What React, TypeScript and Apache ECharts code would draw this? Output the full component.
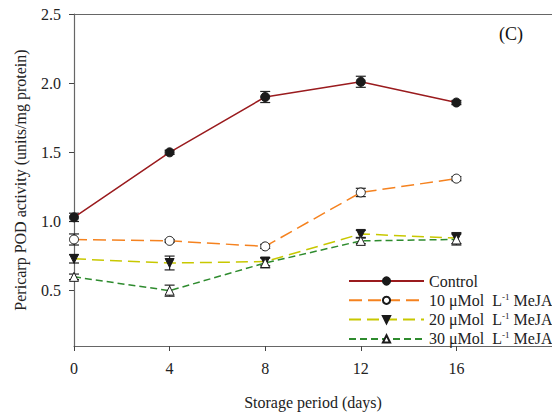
import React, { useEffect, useRef } from "react";
import * as echarts from "echarts";

const days = [0, 4, 8, 12, 16];
const xTicks = [0, 4, 8, 12, 16];
const yTicks = [0.5, 1.0, 1.5, 2.0, 2.5];

const seriesNames = ["Control", "10 μMol L-1 MeJA", "20 μMol L-1 MeJA", "30 μMol L-1 MeJA"];
const control = [1.03, 1.5, 1.9, 2.01, 1.86];
const controlErr = [0.03, 0.015, 0.04, 0.04, 0.015];
const mejA10 = [0.87, 0.86, 0.82, 1.21, 1.31];
const mejA10Err = [0.04, 0.01, 0.015, 0.03, 0.015];
const mejA20 = [0.73, 0.7, 0.71, 0.91, 0.88];
const mejA20Err = [0.03, 0.05, 0.03, 0.025, 0.04];
const mejA30 = [0.6, 0.5, 0.7, 0.86, 0.87];
const mejA30Err = [0.02, 0.04, 0.035, 0.02, 0.04];

const FONT = "Liberation Serif";

export default function App() {
  const ref = useRef<HTMLDivElement>(null);
  useEffect(() => {
    if (!ref.current) return;
    const chart = echarts.init(ref.current, undefined, { renderer: "svg" });

    const values = [control, mejA10, mejA20, mejA30];
    const errs = [controlErr, mejA10Err, mejA20Err, mejA30Err];
    const colors = ["#9a1b1e", "#f5821f", "#c8c800", "#2e8b2e"];
    const dashes: any[] = ["solid", [13, 6], [12, 6], [7, 4]];
    const symbols = ["circle", "circle", "triangle", "triangle"];
    const rot = [0, 0, 180, 0];
    const fills = ["#1a1a1a", "#ffffff", "#1a1a1a", "#ffffff"];
    const sizes = [9, 9, 9, 9];

    const lineSeries = values.map((v, i) => ({
      type: "line",
      name: seriesNames[i],
      data: days.map((d, j) => [d, v[j]]),
      symbol: symbols[i],
      symbolSize: sizes[i],
      symbolRotate: rot[i],
      showAllSymbol: true,
      z: 3,
      lineStyle: { color: colors[i], width: 1.5, type: dashes[i] },
      itemStyle: { color: fills[i], borderColor: "#1a1a1a", borderWidth: 1 },
    }));

    const errSeries = values.map((v, i) => ({
      type: "custom",
      name: "err" + i,
      z: 2,
      data: days.map((d, j) => [d, v[j] - errs[i][j], v[j] + errs[i][j]]),
      renderItem: (params: any, api: any) => {
        const x = api.value(0);
        const lo = api.coord([x, api.value(1)]);
        const hi = api.coord([x, api.value(2)]);
        const w = 5;
        const style = { stroke: "#222", lineWidth: 1.2 };
        return {
          type: "group",
          children: [
            { type: "line", shape: { x1: lo[0], y1: lo[1], x2: hi[0], y2: hi[1] }, style },
            { type: "line", shape: { x1: lo[0] - w, y1: lo[1], x2: lo[0] + w, y2: lo[1] }, style },
            { type: "line", shape: { x1: hi[0] - w, y1: hi[1], x2: hi[0] + w, y2: hi[1] }, style },
          ],
        };
      },
    }));

    const legendFmt = (name: string) => {
      if (name === "Control") return "Control";
      const num = name.split(" ")[0];
      return num + " μMol  L{sup|-1} MeJA";
    };

    chart.setOption({
      animation: false,
      backgroundColor: "#ffffff",
      textStyle: { fontFamily: FONT },
      grid: { left: 74, top: 14, width: 480, height: 339 },
      legend: {
        data: seriesNames,
        orient: "vertical",
        left: 343,
        top: 268,
        itemWidth: 75,
        itemHeight: 9,
        itemGap: 3.3,
        formatter: legendFmt,
        textStyle: {
          fontFamily: FONT,
          fontSize: 16,
          lineHeight: 16,
          color: "#222",
          rich: {
            sup: { fontFamily: FONT, fontSize: 9, lineHeight: 16, verticalAlign: "top", padding: [0, 0, 6, 0], color: "#222" },
          },
        },
      },
      xAxis: [
        {
          type: "value",
          min: 0,
          max: 20,
          name: "Storage period (days)",
          nameLocation: "middle",
          nameGap: 48,
          nameTextStyle: { fontFamily: FONT, fontSize: 16, color: "#222" },
          splitLine: { show: false },
          axisLine: { lineStyle: { color: "#666", width: 1.2 } },
          axisTick: { show: true, length: 5, customValues: xTicks, lineStyle: { color: "#444" } },
          axisLabel: { customValues: xTicks, margin: 14, fontFamily: FONT, fontSize: 16, color: "#222" },
        },
        {
          type: "value",
          position: "top",
          min: 0,
          max: 20,
          splitLine: { show: false },
          axisLine: { show: true, lineStyle: { color: "#666", width: 1.2 } },
          axisTick: { show: false },
          axisLabel: { show: false },
        },
      ],
      yAxis: {
        type: "value",
        min: 0.1,
        max: 2.5,
        name: "Pericarp POD activity (units/mg protein)",
        nameLocation: "middle",
        nameGap: 46,
        nameTextStyle: { fontFamily: FONT, fontSize: 16, color: "#222" },
        splitLine: { show: false },
        axisLine: { show: true, lineStyle: { color: "#666", width: 1.2 } },
        axisTick: { show: true, length: 5, customValues: yTicks, lineStyle: { color: "#444" } },
        axisLabel: {
          customValues: yTicks,
          margin: 13,
          fontFamily: FONT,
          fontSize: 16,
          color: "#222",
          formatter: (v: number) => v.toFixed(1),
        },
      },
      graphic: [
        {
          type: "text",
          left: 499,
          top: 25,
          style: { text: "(C)", fontFamily: FONT, fontSize: 18, fontWeight: "normal", fill: "#111" },
        },
      ],
      series: [...errSeries, ...lineSeries],
    });
    return () => chart.dispose();
  }, []);
  return <div ref={ref} style={{ width: 552, height: 415, position: "absolute", left: 0, top: 0 }} />;
}
